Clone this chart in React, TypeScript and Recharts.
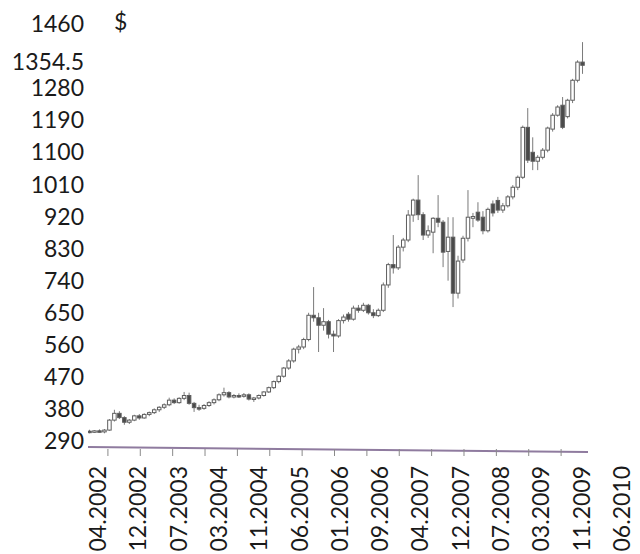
import React from "react";
import {
  ComposedChart,
  Bar,
  XAxis,
  YAxis,
  ReferenceLine,
} from "recharts";

// monthly candles (left to right)
const OPEN = [
  318, 316, 319, 316, 321, 349, 368, 356, 343, 349,
  361, 355, 365, 370, 378, 385, 392, 405, 398, 410,
  418, 396, 384, 382, 390, 398, 406, 420, 426, 414,
  418, 416, 420, 408, 411, 418, 428, 440, 457, 472,
  495, 515, 548, 554, 575, 643, 636, 615, 625, 590,
  585, 628, 646, 632, 663, 657, 671, 650, 642, 657,
  728, 785, 776, 834, 854, 924, 966, 925, 868, 876,
  915, 904, 822, 862, 705, 798, 859, 915, 932, 918,
  880, 955, 965, 938, 950, 975, 1002, 1030, 1170, 1100,
  1075, 1086, 1106, 1165, 1204, 1232, 1200, 1246, 1302, 1353,
];
const HIGH = [
  322, 321, 323, 324, 352, 378, 374, 360, 352, 364,
  366, 368, 373, 382, 388, 396, 412, 410, 413, 428,
  426, 400, 392, 394, 402, 410, 424, 440, 430, 422,
  424, 425, 424, 414, 421, 430, 443, 460, 475, 498,
  520, 552, 560, 580, 650, 722, 650, 663, 630, 600,
  632, 645, 652, 670, 672, 678, 675, 660, 662, 735,
  790, 868, 840, 860, 938, 970, 1036, 932, 895, 918,
  980, 910, 918, 918, 810, 866, 994, 930, 960, 935,
  945, 965, 975, 958, 980, 1008, 1035, 1175, 1224, 1142,
  1092, 1112, 1172, 1210, 1232, 1255, 1250, 1306, 1358, 1409,
];
const LOW = [
  312, 313, 314, 312, 319, 345, 352, 336, 338, 346,
  350, 353, 360, 366, 372, 380, 388, 394, 395, 405,
  392, 372, 375, 378, 386, 393, 402, 415, 410, 410,
  411, 412, 404, 400, 407, 415, 425, 436, 452, 468,
  490, 510, 536, 548, 570, 625, 540, 600, 578, 540,
  580, 620, 625, 628, 650, 652, 645, 635, 638, 652,
  720, 760, 770, 822, 848, 905, 910, 854, 860, 817,
  890, 778, 740, 666, 690, 790, 850, 890, 905, 870,
  875, 920, 930, 930, 945, 968, 994, 1025, 1070, 1050,
  1050, 1080, 1100, 1158, 1200, 1165, 1195, 1238, 1296, 1320,
];
const CLOSE = [
  316, 319, 316, 321, 349, 368, 356, 343, 349, 361,
  355, 365, 370, 378, 385, 392, 405, 398, 410, 418,
  396, 384, 382, 390, 398, 406, 420, 426, 414, 418,
  416, 420, 408, 411, 418, 428, 440, 457, 472, 495,
  515, 548, 554, 575, 643, 636, 615, 625, 590, 585,
  628, 638, 632, 663, 657, 671, 650, 642, 657, 728,
  785, 776, 834, 854, 924, 966, 925, 868, 880, 915,
  904, 820, 862, 705, 795, 859, 918, 920, 910, 880,
  940, 930, 938, 950, 975, 1002, 1030, 1170, 1078, 1075,
  1086, 1106, 1168, 1204, 1227, 1170, 1246, 1302, 1353, 1344,
];

const Y_TICKS = [290, 380, 470, 560, 650, 740, 830, 920, 1010, 1100, 1190, 1280, 1354.5, 1460];
const DATE_LABELS = [
  "04.2002", "12.2002", "07.2003", "03.2004", "11.2004", "06.2005", "01.2006",
  "09.2006", "04.2007", "12.2007", "07.2008", "03.2009", "11.2009", "06.2010",
];
// where the date labels sit, in candle units
const LABEL_POS = [1.6, 9.7, 17.8, 25.9, 34.0, 42.1, 50.2, 58.2, 66.3, 74.4, 82.5, 90.6, 98.7, 106.8];
// small tick marks under the axis line, in candle units
const TICK_MARKS = [3.6, 10.1, 16.6, 23.1, 29.6, 36.1, 42.6, 49.1, 55.6, 62.1, 68.6, 75.1, 81.6, 88.1, 94.6];

const FONT = 'Lato, "Open Sans", sans-serif';

const data = OPEN.map((o, i) => ({
  i,
  open: o,
  high: HIGH[i],
  low: LOW[i],
  close: CLOSE[i],
  range: [LOW[i], HIGH[i]],
}));

const Candle = (props: any) => {
  const { x, y, width, height, payload } = props;
  if (x == null || y == null) return null;
  const top = Math.min(y, y + height);
  const h = Math.abs(height);
  const k = h / (payload.high - payload.low || 1);
  const yo = top + (payload.high - payload.open) * k;
  const yc = top + (payload.high - payload.close) * k;
  const up = payload.close >= payload.open;
  const cx = x + width / 2;
  const bTop = Math.min(yo, yc);
  const bH = Math.max(1.5, Math.abs(yo - yc));
  return (
    <g>
      <line x1={cx} x2={cx} y1={top} y2={top + h} stroke="#7a7a7a" strokeWidth={1} />
      <rect
        x={x + 0.25}
        y={bTop}
        width={width - 0.5}
        height={bH}
        fill={up ? "#ffffff" : "#4a4a4a"}
        stroke="#5e5e5e"
        strokeWidth={1}
      />
    </g>
  );
};

// one axis carries both the tick marks and the (offset) date labels
const TimeTick = (props: any) => {
  const { x, y, payload } = props;
  const li = LABEL_POS.indexOf(payload.value);
  if (li < 0) {
    return <line x1={x} x2={x} y1={y} y2={y + 7} stroke="#8a8a8a" strokeWidth={1} />;
  }
  const ty = y + 17;
  return (
    <text
      x={x}
      y={ty}
      transform={`rotate(-90, ${x}, ${ty})`}
      textAnchor="end"
      dy="0.35em"
      fontFamily={FONT}
      fontSize={23}
      fill="#1a1a1a"
    >
      {DATE_LABELS[li]}
    </text>
  );
};

export default function App() {
  return (
    <div style={{ position: "absolute", left: 0, top: 0, width: 640, height: 554, background: "#fff" }}>
      <ComposedChart
        width={640}
        height={554}
        data={data}
        margin={{ top: 20, right: 4, bottom: 0, left: 0 }}
      >
        <XAxis
          xAxisId="t"
          dataKey="i"
          type="number"
          domain={[-0.4, 109.64]}
          allowDataOverflow
          ticks={[...TICK_MARKS, ...LABEL_POS]}
          interval={0}
          tick={<TimeTick />}
          tickLine={false}
          tickSize={0}
          tickMargin={0}
          axisLine={false}
          height={105}
        />
        <YAxis
          type="number"
          domain={[268, 1471]}
          allowDataOverflow
          ticks={Y_TICKS}
          interval={0}
          width={88}
          axisLine={false}
          tickLine={false}
          tickSize={2}
          tickMargin={2}
          tick={{ fontFamily: FONT, fontSize: 23, fill: "#1a1a1a" }}
        />
        <ReferenceLine
          xAxisId="t"
          segment={[
            { x: -0.4, y: 273.6 },
            { x: 100, y: 259.6 },
          ]}
          stroke="#8f7b9f"
          strokeWidth={2}
          ifOverflow="visible"
        />
        <Bar
          xAxisId="t"
          dataKey="range"
          barSize={4}
          shape={<Candle />}
          isAnimationActive={false}
        />
      </ComposedChart>
      <div
        style={{
          position: "absolute",
          left: 114,
          top: 6,
          fontFamily: FONT,
          fontSize: 23,
          lineHeight: "30px",
          color: "#1a1a1a",
        }}
      >
        $
      </div>
    </div>
  );
}
